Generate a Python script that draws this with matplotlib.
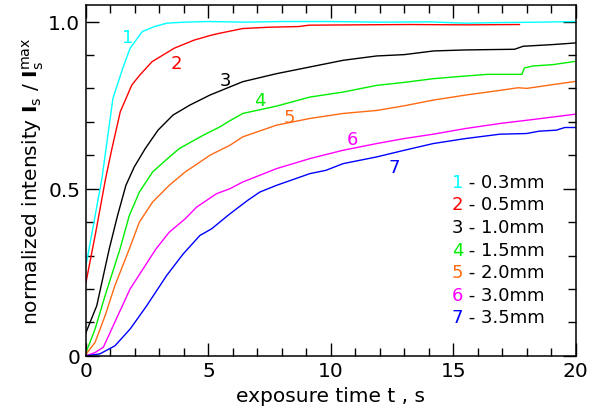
import matplotlib
matplotlib.use('Agg')
import matplotlib.pyplot as plt
from matplotlib.ticker import MultipleLocator

plt.rcParams['font.family'] = ['DejaVu Sans']
plt.rcParams['mathtext.fontset'] = 'dejavusans'

# curve data (time in s, normalized intensity)
t1 = [0, 0.3, 0.65, 1.1, 1.5, 1.8, 2.3, 2.8, 3.3, 4.0, 5.0, 6.5, 8.0, 10.0, 12.0, 14.0, 15.5, 17.0, 18.5, 20.0]
i1 = [0.27, 0.39, 0.53, 0.77, 0.86, 0.92, 0.97, 0.985, 0.995, 0.998, 1.0, 0.998, 1.0, 1.0, 0.998, 0.999, 0.995, 0.997, 0.998, 1.0]

t2 = [0, 0.4, 0.8, 1.06, 1.4, 1.87, 2.2, 2.7, 3.6, 4.4, 5.06, 5.4, 6.4, 7.5, 8.7, 9.1, 11.0, 13.2, 15.5, 17.7]
i2 = [0.22, 0.37, 0.53, 0.62, 0.73, 0.81, 0.84, 0.88, 0.92, 0.944, 0.958, 0.964, 0.979, 0.983, 0.985, 0.989, 0.990, 0.991, 0.990, 0.991]

t3 = [0, 0.44, 0.95, 1.29, 1.63, 1.97, 2.42, 2.94, 3.55, 4.24, 5.06, 6.4, 7.78, 9.14, 10.5, 11.87, 13.0, 14.2, 15.5, 17.5, 17.85, 19.06, 20.0]
i3 = [0.07, 0.15, 0.32, 0.42, 0.51, 0.565, 0.62, 0.675, 0.72, 0.75, 0.78, 0.82, 0.844, 0.864, 0.884, 0.897, 0.901, 0.912, 0.915, 0.917, 0.926, 0.931, 0.936]

t4 = [0, 0.37, 0.78, 1.39, 1.77, 2.18, 2.72, 3.33, 3.81, 4.79, 5.47, 5.8, 6.4, 7.78, 9.14, 10.5, 11.87, 13.0, 14.18, 15.5, 16.4, 17.8, 17.9, 18.25, 19.06, 20.0]
i4 = [0.01, 0.08, 0.18, 0.32, 0.42, 0.49, 0.55, 0.59, 0.62, 0.66, 0.685, 0.70, 0.725, 0.747, 0.774, 0.789, 0.809, 0.818, 0.829, 0.837, 0.842, 0.842, 0.861, 0.867, 0.871, 0.881]

t5 = [0, 0.37, 0.78, 1.18, 1.77, 2.18, 2.72, 3.4, 4.05, 4.5, 5.06, 5.47, 5.88, 6.4, 7.78, 9.14, 10.5, 11.87, 13.0, 14.18, 15.5, 16.9, 17.65, 18.0, 18.94, 20.0]
i5 = [0.005, 0.04, 0.12, 0.21, 0.32, 0.40, 0.46, 0.51, 0.55, 0.572, 0.60, 0.615, 0.63, 0.655, 0.69, 0.71, 0.725, 0.734, 0.748, 0.765, 0.78, 0.794, 0.802, 0.80, 0.81, 0.821]

t6 = [0, 0.37, 0.71, 1.11, 1.8, 2.86, 3.4, 4.05, 4.52, 5.33, 5.88, 6.4, 7.78, 9.14, 10.5, 11.87, 13.0, 14.18, 15.5, 16.9, 18.26, 20.0]
i6 = [0.0, 0.01, 0.026, 0.09, 0.20, 0.32, 0.37, 0.41, 0.445, 0.485, 0.50, 0.52, 0.56, 0.59, 0.615, 0.635, 0.65, 0.663, 0.68, 0.695, 0.707, 0.723]

t7 = [0, 0.57, 1.18, 1.8, 2.48, 3.29, 3.97, 4.65, 5.13, 5.88, 6.6, 7.1, 7.78, 9.14, 9.8, 10.5, 11.87, 13.0, 14.18, 15.5, 16.9, 17.99, 18.5, 19.2, 19.55, 20.0]
i7 = [0.0, 0.006, 0.03, 0.08, 0.15, 0.24, 0.305, 0.36, 0.38, 0.425, 0.465, 0.49, 0.51, 0.545, 0.555, 0.575, 0.595, 0.615, 0.635, 0.65, 0.663, 0.665, 0.672, 0.675, 0.683, 0.683]

curves = [(t1, i1), (t2, i2), (t3, i3), (t4, i4), (t5, i5), (t6, i6), (t7, i7)]
colors = ['#00ffff', '#ff0000', '#000000', '#00ee00', '#ff6a13', '#ff00ff', '#0000ff']
thickness = ['0.3mm', '0.5mm', '1.0mm', '1.5mm', '2.0mm', '3.0mm', '3.5mm']
# where the number sits next to each curve
label_x = [1.7, 3.7, 5.7, 7.1, 8.3, 10.9, 12.6]
label_y = [0.955, 0.875, 0.825, 0.765, 0.715, 0.65, 0.565]

fig = plt.figure(figsize=(5.93, 4.14), dpi=100)
ax = fig.add_axes([0.145, 0.138, 0.826, 0.848])

for k, (t, v) in enumerate(curves):
    ax.plot(t, v, color=colors[k], lw=1.0)
    ax.text(label_x[k], label_y[k], str(k + 1), color=colors[k], fontsize=13,
            ha='center', va='center')

# legend as text lines
for k in range(7):
    yy = 0.521 - k * 0.0677
    ax.text(15.4, yy, str(k + 1), color=colors[k], fontsize=13, ha='right', va='center')
    ax.text(15.4, yy, ' - ' + thickness[k], color='black', fontsize=13, ha='left', va='center')

ax.set_xlim(0, 20)
ax.set_ylim(0, 1.05)
ax.set_xticks([0, 5, 10, 15, 20])
ax.set_yticks([0, 0.5, 1.0])
ax.set_yticklabels(['0', '0.5', '1.0'])
ax.xaxis.set_minor_locator(MultipleLocator(1))
ax.yaxis.set_minor_locator(MultipleLocator(0.1))
ax.tick_params(which='both', direction='in', top=True, right=True, width=1.0, labelsize=14.5)
ax.tick_params(which='major', length=9.5, pad=4)
ax.tick_params(which='minor', length=5.5)
for s in ax.spines.values():
    s.set_linewidth(1.1)

ax.set_xlabel('exposure time t , s', fontsize=14.5, labelpad=4)
ax.set_ylabel(r'normalized intensity $\mathbf{I}_\mathrm{s}$ / $\mathbf{I}_\mathrm{s}^\mathrm{max}$',
              fontsize=14.5, labelpad=2)

fig.savefig('out.png', dpi=100)
